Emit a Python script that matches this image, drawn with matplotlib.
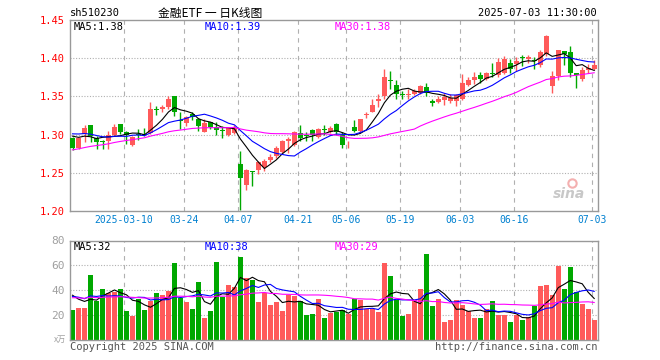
import numpy as np
import pandas as pd
import matplotlib
matplotlib.use("Agg")
import matplotlib.pyplot as plt

# daily candles for sh510230, 2025-02-25 .. 2025-07-03
opens = [1.295, 1.283, 1.301, 1.312, 1.296, 1.291, 1.291, 1.300, 1.314, 1.303,
         1.286, 1.300, 1.301, 1.302, 1.333, 1.333, 1.336, 1.350, 1.319, 1.315,
         1.327, 1.321, 1.304, 1.316, 1.310, 1.306, 1.300, 1.302, 1.262, 1.234,
         1.252, 1.254, 1.258, 1.267, 1.272, 1.277, 1.292, 1.286, 1.302, 1.300,
         1.306, 1.297, 1.307, 1.303, 1.314, 1.299, 1.291, 1.310, 1.305, 1.326,
         1.330, 1.344, 1.350, 1.371, 1.365, 1.353, 1.352, 1.353, 1.354, 1.362,
         1.344, 1.343, 1.345, 1.344, 1.344, 1.347, 1.365, 1.372, 1.378, 1.373,
         1.380, 1.378, 1.381, 1.394, 1.392, 1.401, 1.399, 1.397, 1.391, 1.405,
         1.363, 1.377, 1.410, 1.408, 1.380, 1.373, 1.384, 1.386]
highs = [1.297, 1.297, 1.312, 1.313, 1.298, 1.293, 1.305, 1.314, 1.314, 1.305,
         1.298, 1.307, 1.308, 1.343, 1.338, 1.339, 1.350, 1.350, 1.330, 1.325,
         1.329, 1.322, 1.320, 1.317, 1.317, 1.311, 1.310, 1.313, 1.278, 1.255,
         1.253, 1.266, 1.268, 1.274, 1.285, 1.293, 1.297, 1.305, 1.312, 1.303,
         1.307, 1.309, 1.313, 1.311, 1.315, 1.304, 1.292, 1.319, 1.321, 1.329,
         1.346, 1.353, 1.386, 1.383, 1.371, 1.357, 1.360, 1.360, 1.365, 1.368,
         1.347, 1.351, 1.355, 1.353, 1.353, 1.379, 1.375, 1.382, 1.382, 1.382,
         1.394, 1.400, 1.403, 1.399, 1.401, 1.404, 1.404, 1.402, 1.411, 1.430,
         1.383, 1.411, 1.410, 1.416, 1.381, 1.388, 1.392, 1.398]
lows = [1.280, 1.281, 1.290, 1.290, 1.281, 1.281, 1.281, 1.298, 1.301, 1.288,
        1.285, 1.293, 1.298, 1.301, 1.326, 1.330, 1.334, 1.325, 1.307, 1.311,
        1.319, 1.305, 1.303, 1.307, 1.300, 1.296, 1.298, 1.301, 1.201, 1.228,
        1.233, 1.248, 1.253, 1.264, 1.270, 1.276, 1.276, 1.285, 1.292, 1.292,
        1.292, 1.296, 1.300, 1.302, 1.300, 1.282, 1.282, 1.304, 1.304, 1.322,
        1.329, 1.336, 1.346, 1.360, 1.347, 1.347, 1.347, 1.352, 1.353, 1.350,
        1.338, 1.342, 1.339, 1.342, 1.338, 1.345, 1.364, 1.366, 1.368, 1.372,
        1.376, 1.376, 1.379, 1.381, 1.383, 1.390, 1.394, 1.386, 1.389, 1.403,
        1.355, 1.372, 1.391, 1.375, 1.361, 1.370, 1.381, 1.384]
closes = [1.282, 1.296, 1.308, 1.298, 1.290, 1.290, 1.300, 1.310, 1.303, 1.300,
          1.297, 1.299, 1.300, 1.333, 1.332, 1.336, 1.347, 1.329, 1.318, 1.323,
          1.323, 1.311, 1.315, 1.310, 1.306, 1.305, 1.309, 1.308, 1.243, 1.254,
          1.251, 1.264, 1.266, 1.271, 1.283, 1.291, 1.294, 1.303, 1.295, 1.298,
          1.300, 1.307, 1.306, 1.309, 1.304, 1.287, 1.292, 1.305, 1.320, 1.327,
          1.339, 1.347, 1.375, 1.370, 1.353, 1.352, 1.353, 1.357, 1.364, 1.354,
          1.342, 1.347, 1.349, 1.348, 1.352, 1.368, 1.372, 1.376, 1.373, 1.381,
          1.379, 1.395, 1.399, 1.386, 1.396, 1.400, 1.402, 1.396, 1.408, 1.429,
          1.377, 1.411, 1.405, 1.380, 1.378, 1.384, 1.387, 1.391]
# volume in units of 10k
volumes = [24.2, 26.1, 26.0, 52.5, 31.5, 41.2, 37.7, 38.2, 41.2, 23.4,
           19.4, 33.1, 24.2, 31.5, 38.0, 36.4, 39.6, 62.0, 34.0, 30.9,
           25.0, 46.6, 18.0, 23.4, 63.0, 34.9, 44.4, 42.3, 67.0, 50.1,
           48.5, 30.9, 37.7, 28.3, 30.2, 23.4, 36.1, 35.0, 31.0, 19.7,
           21.0, 33.0, 18.0, 21.5, 22.9, 24.2, 21.0, 33.0, 31.8, 24.8,
           24.8, 22.9, 61.7, 51.2, 32.3, 19.0, 21.0, 32.3, 41.2, 69.5,
           27.0, 33.0, 14.8, 16.2, 32.3, 28.3, 23.4, 18.0, 18.0, 25.1,
           31.5, 19.7, 20.2, 14.1, 20.2, 16.2, 18.3, 27.4, 43.4, 44.0,
           36.4, 59.2, 41.2, 58.4, 38.2, 29.0, 25.0, 16.2]
# sessions before the window, only used to warm up the moving averages
prev_close = [1.255, 1.258, 1.252, 1.256, 1.260, 1.262, 1.258, 1.261, 1.264, 1.262,
              1.265, 1.263, 1.268, 1.278, 1.282, 1.285, 1.288, 1.290, 1.291, 1.292,
              1.298, 1.302, 1.306, 1.308, 1.306, 1.304, 1.300, 1.302, 1.302]
prev_vol = [30, 36, 28, 41, 33, 29, 38, 35, 31, 27, 40, 34, 32, 36, 30, 29, 37, 33, 35, 36,
            32, 38, 30, 36, 34, 42, 35, 44, 34.8]

date_ticks = ['2025-03-10', '03-24', '04-07', '04-21', '05-06', '05-19', '06-03', '06-16', '07-03']
date_idx = [9, 19, 28, 38, 46, 55, 65, 74, 87]
price_ticks = [1.20, 1.25, 1.30, 1.35, 1.40, 1.45]
vol_ticks = [20, 40, 60, 80]
price_ma_text = ['MA5:1.38', 'MA10:1.39', 'MA30:1.38']
vol_ma_text = ['MA5:32', 'MA10:38', 'MA30:29']

RED = '#ff5a5a'
GREEN = '#00a800'
GRAY = '#a0a0a0'
MONO = 'DejaVu Sans Mono'

n = len(closes)
x = np.arange(n)
o = np.array(opens); c = np.array(closes)
up = c >= o
colors = np.where(up, RED, GREEN)

cs = pd.Series(prev_close + closes)
vs = pd.Series(prev_vol + volumes)
k = len(prev_close)
pma = {w: cs.rolling(w).mean().values[k:] for w in (5, 10, 30)}
vma = {w: vs.rolling(w).mean().values[k:] for w in (5, 10, 30)}
ma_colors = {5: 'black', 10: '#0000ff', 30: '#ff00ff'}

W, H = 660, 360
fig = plt.figure(figsize=(6.6, 3.6), dpi=100)
fig.patch.set_facecolor('white')

def box(l, t, r, b):
    return [l / W, 1 - b / H, (r - l) / W, (b - t) / H]

ax = fig.add_axes(box(70, 20, 597.5, 211))
axv = fig.add_axes(box(70, 240.5, 597.5, 340))

for a in (ax, axv):
    a.set_xlim(-0.42, 87.55)
    for s in a.spines.values():
        s.set_color('#999999')
        s.set_linewidth(1)
    for xi in date_idx:
        a.axvline(xi - 0.42, color='#b0b0b0', lw=0.8, ls=(0, (4, 4)), zorder=0)
    a.tick_params(length=0)

# price panel
ax.set_ylim(1.20, 1.45)
for yv in price_ticks[1:-1]:
    ax.axhline(yv, color='#b0b0b0', lw=0.8, ls=(0, (1, 1.5)), zorder=0)
body_bottom = np.minimum(o, c)
body_h = np.maximum(np.abs(c - o), 0.0012)
ax.vlines(x, lows, highs, colors=colors, lw=1, zorder=2)
ax.bar(x, body_h, bottom=body_bottom, width=0.8, color=colors, zorder=3, linewidth=0)
for w in (5, 10, 30):
    ax.plot(x, pma[w], color=ma_colors[w], lw=0.8, zorder=4)
ax.set_yticks(price_ticks)
ax.set_yticklabels(['%.2f' % t for t in price_ticks], color='red', fontsize=7.5, family=MONO)
ax.set_xticks(np.array(date_idx) - 0.42)
ax.set_xticklabels(date_ticks, color='#0080d0', fontsize=7, family=MONO)
ax.tick_params(axis='y', pad=4)
ax.tick_params(axis='x', pad=3)
ax.text(85.5, 1.222, 'sina', color='#c8c8c8', fontsize=10, fontweight='bold',
        style='italic', ha='right', va='center', zorder=1)
ax.plot([83.3], [1.236], marker='o', ms=6, mfc='none', mec='#f4b0b0', mew=1.5, zorder=1)

# volume panel
axv.set_ylim(0, 80)
for yv in vol_ticks[:-1]:
    axv.axhline(yv, color='#b0b0b0', lw=0.8, ls=(0, (1, 1.5)), zorder=0)
axv.bar(x, volumes, width=0.8, color=colors, linewidth=0, zorder=2)
for w in (5, 10, 30):
    axv.plot(x, vma[w], color=ma_colors[w], lw=0.8, zorder=3)
axv.set_yticks(vol_ticks)
axv.set_yticklabels([str(t) for t in vol_ticks], color=GRAY, fontsize=8, family=MONO)
axv.tick_params(axis='y', pad=4)
axv.set_xticks([])

def ftext(px, py, s, **kw):
    fig.text(px / W, 1 - py / H, s, **kw)

ftext(70, 13, 'sh510230', fontsize=7.5, family=MONO, va='center')
ftext(210, 13, '金融ETF 一 日K线图', fontsize=8.5, family=['Noto Sans CJK SC', 'DejaVu Sans'],
      ha='center', va='center')
ftext(597, 13, '2025-07-03 11:30:00', fontsize=7.5, family=MONO, ha='right', va='center')

for px, s, col in zip((74, 205, 335), price_ma_text, ('black', '#0000ff', '#ff00ff')):
    ftext(px, 27, s, fontsize=7.5, family=MONO, color=col, va='center')
for px, s, col in zip((74, 205, 335), vol_ma_text, ('black', '#0000ff', '#ff00ff')):
    ftext(px, 247, s, fontsize=7.5, family=MONO, color=col, va='center')

ftext(66, 339, 'x万', fontsize=6, family=['Noto Sans CJK SC', 'DejaVu Sans'], color=GRAY,
      ha='right', va='center')
ftext(70, 347.5, 'Copyright 2025 SINA.COM', fontsize=7.5, family=MONO, color='#555555', va='center')
ftext(597, 347.5, 'http://finance.sina.com.cn', fontsize=7.5, family=MONO, color='#555555',
      ha='right', va='center')

fig.savefig('out.png', dpi=100)
